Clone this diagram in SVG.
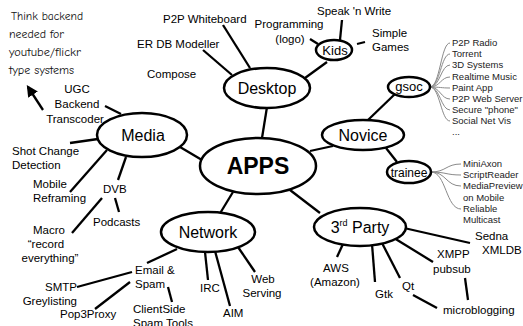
<svg xmlns="http://www.w3.org/2000/svg" width="523" height="326" viewBox="0 0 523 326">
  <style>
    .n { fill: #fff; stroke: #000; stroke-width: 2.5; }
    .c line, .c polyline { stroke: #000; stroke-width: 2.3; fill: none; }
    .c path.f { stroke: #8a8a8a; stroke-width: 1; fill: none; }
    text { font-family: "Liberation Sans", Arial, sans-serif; fill: #000; }
    .t { font-size: 11.5px; }
    .m { text-anchor: middle; }
    .e { text-anchor: end; }
    .big { font-size: 16px; text-anchor: middle; }
    .s { font-size: 9.5px; fill: #222; }
    .hand { font-family: "Comic Neue", "DejaVu Sans Condensed", sans-serif; font-size: 12.5px; fill: #111; }
  </style>
  <defs>
    <marker id="ah" viewBox="0 0 10 10" refX="8" refY="5" markerWidth="5" markerHeight="5" orient="auto">
      <path d="M0,0 L10,5 L0,10 z" fill="#000"/>
    </marker>
  </defs>

  <rect width="523" height="326" fill="#fff"/>

  <!-- connectors -->
  <g id="connectors" class="c">
    <!-- hub -->
    <line x1="267" y1="107" x2="262" y2="138"/>
    <line x1="180" y1="147" x2="202" y2="160"/>
    <line x1="310" y1="151" x2="333" y2="146"/>
    <line x1="233" y1="192" x2="219" y2="215"/>
    <line x1="290" y1="190" x2="320" y2="213"/>
    <!-- desktop -->
    <line x1="223" y1="25" x2="250" y2="68"/>
    <line x1="203" y1="50" x2="232" y2="75"/>
    <line x1="305" y1="78" x2="327" y2="62"/>
    <line x1="342" y1="20" x2="340" y2="40"/>
    <line x1="310" y1="39" x2="318" y2="44"/>
    <line x1="357" y1="44" x2="365" y2="42"/>
    <!-- media -->
    <line x1="105" y1="106" x2="121" y2="114"/>
    <line x1="70" y1="143" x2="98" y2="139"/>
    <line x1="70" y1="192" x2="107" y2="150"/>
    <line x1="118" y1="180" x2="126" y2="157"/>
    <line x1="115" y1="198" x2="119" y2="212"/>
    <line x1="102" y1="198" x2="72" y2="233"/>
    <line x1="43" y1="110" x2="28" y2="87" marker-end="url(#ah)"/>
    <!-- network -->
    <line x1="205" y1="252" x2="208" y2="280"/>
    <line x1="215" y1="251" x2="230" y2="306"/>
    <line x1="238" y1="247" x2="255" y2="272"/>
    <line x1="177" y1="249" x2="147" y2="263"/>
    <line x1="132" y1="272" x2="77" y2="287"/>
    <line x1="130" y1="282" x2="95" y2="309"/>
    <line x1="168" y1="287" x2="172" y2="302"/>
    <!-- novice -->
    <line x1="368" y1="120" x2="395" y2="94"/>
    <line x1="386" y1="148" x2="397" y2="162"/>
    <!-- third party -->
    <line x1="343" y1="244" x2="337" y2="257"/>
    <line x1="372" y1="244" x2="375" y2="282"/>
    <line x1="382" y1="243" x2="400" y2="278"/>
    <line x1="413" y1="295" x2="437" y2="308"/>
    <line x1="394" y1="238" x2="433" y2="262"/>
    <line x1="465" y1="278" x2="468" y2="300"/>
    <line x1="404" y1="228" x2="470" y2="243"/>
    <!-- gsoc fan -->
    <path class="f" d="M430,87 C440,87 441,43 450,43"/>
    <path class="f" d="M430,87 C440,87 441,54 450,54"/>
    <path class="f" d="M430,87 C440,87 441,65 450,65"/>
    <path class="f" d="M430,87 C440,87 441,77 450,77"/>
    <path class="f" d="M430,87 C440,87 441,88 450,88"/>
    <path class="f" d="M430,87 C440,87 441,99 450,99"/>
    <path class="f" d="M430,87 C440,87 441,110 450,110"/>
    <path class="f" d="M430,87 C440,87 441,121 450,121"/>
    <!-- trainee fan -->
    <path class="f" d="M431,172 C446,172 446,164 461,164"/>
    <path class="f" d="M431,172 C446,172 446,175 461,175"/>
    <path class="f" d="M431,172 C446,172 446,186 461,186"/>
    <path class="f" d="M431,172 C446,172 446,209 461,209"/>
  </g>

  <!-- note -->
  <g id="note">
    <text class="hand" x="11" y="20" textLength="72" lengthAdjust="spacingAndGlyphs">Think backend</text>
    <text class="hand" x="9" y="38" textLength="55" lengthAdjust="spacingAndGlyphs">needed for</text>
    <text class="hand" x="9" y="56" textLength="72" lengthAdjust="spacingAndGlyphs">youtube/flickr</text>
    <text class="hand" x="9" y="74" textLength="65" lengthAdjust="spacingAndGlyphs">type systems</text>
  </g>

  <g id="apps">
    <ellipse class="n" cx="258" cy="166" rx="58" ry="28"/>
    <text x="258" y="174" font-size="23" font-weight="bold" text-anchor="middle">APPS</text>
  </g>

  <g id="desktop">
    <ellipse class="n" cx="267" cy="88" rx="43" ry="20"/>
    <text class="big" x="267" y="94">Desktop</text>
  </g>
  <g id="p2p-whiteboard"><text class="t" x="163" y="23">P2P Whiteboard</text></g>
  <g id="er-db"><text class="t" x="137" y="48">ER DB Modeller</text></g>
  <g id="compose"><text class="t" x="147" y="78">Compose</text></g>

  <g id="kids">
    <ellipse class="n" cx="334" cy="50" rx="18" ry="10"/>
    <text x="335" y="55" font-size="13" text-anchor="middle">Kids</text>
  </g>
  <g id="speak"><text class="t" x="317" y="15">Speak 'n Write</text></g>
  <g id="programming">
    <text class="t m" x="289" y="28">Programming</text>
    <text class="t m" x="290" y="43">(logo)</text>
  </g>
  <g id="games">
    <text class="t" x="372" y="37">Simple</text>
    <text class="t" x="372" y="51">Games</text>
  </g>

  <g id="media">
    <ellipse class="n" cx="142" cy="135" rx="45" ry="22"/>
    <text class="big" x="143" y="141">Media</text>
  </g>
  <g id="ugc">
    <text class="t m" x="77" y="93">UGC</text>
    <text class="t m" x="77" y="108">Backend</text>
    <text class="t m" x="75" y="123">Transcoder</text>
  </g>
  <g id="shot-change">
    <text class="t" x="12" y="155">Shot Change</text>
    <text class="t" x="12" y="169">Detection</text>
  </g>
  <g id="mobile">
    <text class="t" x="33" y="188">Mobile</text>
    <text class="t" x="33" y="202">Reframing</text>
  </g>
  <g id="dvb"><text class="t" x="103" y="193">DVB</text></g>
  <g id="podcasts"><text class="t" x="93" y="226">Podcasts</text></g>
  <g id="macro">
    <text class="t m" x="49" y="234">Macro</text>
    <text class="t m" x="46" y="248">“record</text>
    <text class="t m" x="50" y="262">everything”</text>
  </g>

  <g id="network">
    <ellipse class="n" cx="208" cy="232" rx="47" ry="20"/>
    <text class="big" x="208" y="238">Network</text>
  </g>
  <g id="irc"><text class="t" x="200" y="292">IRC</text></g>
  <g id="aim"><text class="t" x="223" y="317">AIM</text></g>
  <g id="web">
    <text class="t m" x="263" y="283">Web</text>
    <text class="t m" x="262" y="297">Serving</text>
  </g>
  <g id="email">
    <text class="t" x="135" y="274">Email &amp;</text>
    <text class="t" x="135" y="288">Spam</text>
  </g>
  <g id="smtp">
    <text class="t e" x="77" y="291">SMTP</text>
    <text class="t e" x="77" y="305">Greylisting</text>
  </g>
  <g id="pop3"><text class="t" x="60" y="318">Pop3Proxy</text></g>
  <g id="clientside">
    <text class="t" x="133" y="313">ClientSide</text>
    <text class="t" x="133" y="327">Spam Tools</text>
  </g>

  <g id="novice">
    <ellipse class="n" cx="363" cy="135" rx="41" ry="15"/>
    <text class="big" x="363" y="141">Novice</text>
  </g>
  <g id="gsoc">
    <ellipse class="n" cx="409" cy="87" rx="21" ry="10"/>
    <text x="409" y="91" font-size="13" text-anchor="middle">gsoc</text>
  </g>
  <g id="gsoc-list">
    <text class="s" x="452" y="46">P2P Radio</text>
    <text class="s" x="452" y="57">Torrent</text>
    <text class="s" x="452" y="68">3D Systems</text>
    <text class="s" x="452" y="80">Realtime Music</text>
    <text class="s" x="452" y="91">Paint App</text>
    <text class="s" x="452" y="102">P2P Web Server</text>
    <text class="s" x="452" y="113">Secure "phone"</text>
    <text class="s" x="452" y="124">Social Net Vis</text>
    <text class="s" x="452" y="135">...</text>
  </g>
  <g id="trainee">
    <ellipse class="n" cx="409" cy="172" rx="22" ry="11"/>
    <text x="409" y="177" font-size="12" text-anchor="middle">trainee</text>
  </g>
  <g id="trainee-list">
    <text class="s" x="463" y="167">MiniAxon</text>
    <text class="s" x="463" y="178">ScriptReader</text>
    <text class="s" x="463" y="189">MediaPreview</text>
    <text class="s" x="463" y="201">on Mobile</text>
    <text class="s" x="463" y="212">Reliable</text>
    <text class="s" x="463" y="223">Multicast</text>
  </g>

  <g id="third-party">
    <ellipse class="n" cx="360" cy="227" rx="46" ry="19"/>
    <text x="360" y="233" font-size="16" text-anchor="middle">3<tspan font-size="9" dy="-7">rd</tspan><tspan dy="7"> Party</tspan></text>
  </g>
  <g id="aws">
    <text class="t m" x="336" y="272">AWS</text>
    <text class="t m" x="335" y="286">(Amazon)</text>
  </g>
  <g id="gtk"><text class="t" x="375" y="298">Gtk</text></g>
  <g id="qt"><text class="t" x="402" y="290">Qt</text></g>
  <g id="xmpp">
    <text class="t" x="437" y="258">XMPP</text>
    <text class="t" x="433" y="273">pubsub</text>
  </g>
  <g id="sedna">
    <text class="t" x="475" y="240">Sedna</text>
    <text class="t" x="482" y="254">XMLDB</text>
  </g>
  <g id="microblogging"><text class="t" x="443" y="314">microblogging</text></g>
</svg>
